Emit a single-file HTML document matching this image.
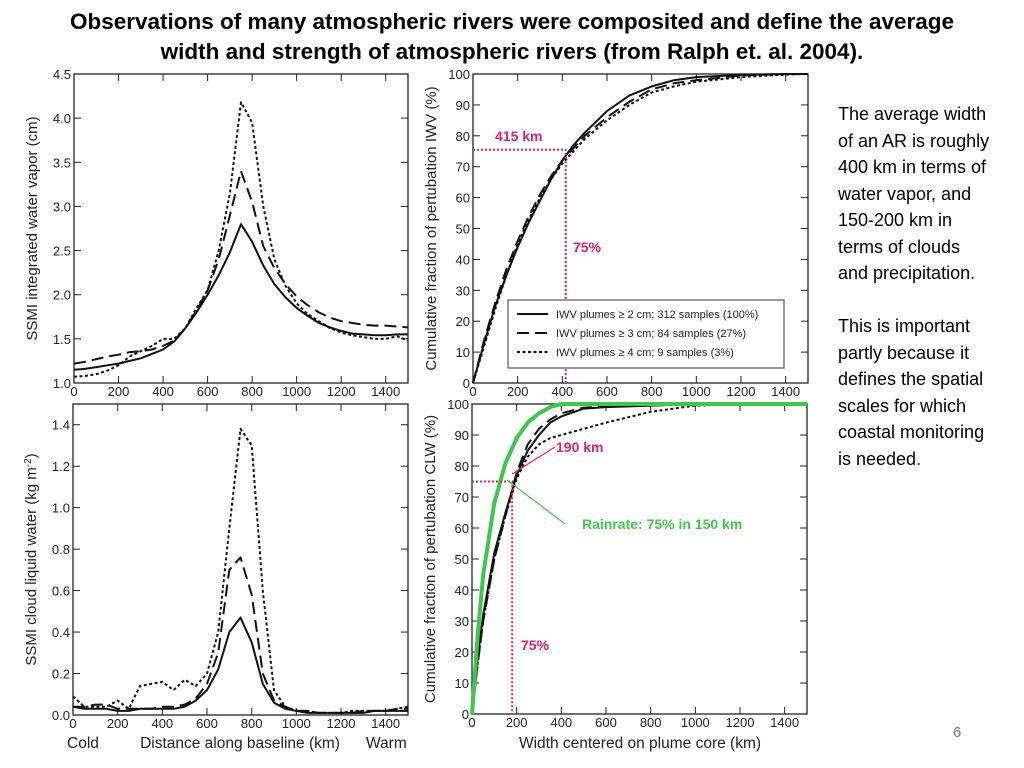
<!DOCTYPE html>
<html><head><meta charset="utf-8"><style>
body{margin:0;width:1024px;height:768px;background:#fff;overflow:hidden;font-family:"Liberation Sans",sans-serif;position:relative}
.title{position:absolute;left:0;top:7px;width:1024px;text-align:center;font-weight:bold;font-size:22.5px;line-height:30px;color:#000}
.side{position:absolute;left:838px;top:101px;width:186px;font-size:18px;line-height:26.5px;color:#000;white-space:nowrap}
.pg{position:absolute;left:953px;top:724px;font-size:15px;color:#777}
svg{position:absolute;left:0;top:0}
</style></head><body>
<div class="title">Observations of many atmospheric rivers were composited and define the average<br>width and strength of atmospheric rivers (from Ralph et. al. 2004).</div>
<div class="side">The average width<br>of an AR is roughly<br>400 km in terms of<br>water vapor, and<br>150-200 km in<br>terms of clouds<br>and precipitation.<br><br>This is important<br>partly because it<br>defines the spatial<br>scales for which<br>coastal monitoring<br>is needed.</div>
<div class="pg">6</div>
<svg id="s" width="1024" height="768"></svg>
<script>
const profX=[0,50,100,150,200,250,300,350,400,450,500,550,600,650,700,750,800,850,900,950,1000,1050,1100,1150,1200,1250,1300,1350,1400,1450,1500];
const iwvSolid=[1.15,1.16,1.18,1.2,1.22,1.25,1.28,1.33,1.38,1.47,1.62,1.8,2.0,2.22,2.48,2.8,2.6,2.33,2.12,1.97,1.85,1.76,1.68,1.63,1.59,1.56,1.55,1.54,1.54,1.55,1.55];
const iwvDash=[1.22,1.24,1.27,1.3,1.32,1.35,1.36,1.38,1.42,1.48,1.62,1.82,2.05,2.4,2.9,3.4,3.05,2.55,2.3,2.12,1.98,1.88,1.8,1.74,1.7,1.68,1.66,1.65,1.65,1.64,1.63];
const iwvDot=[1.07,1.08,1.1,1.14,1.2,1.3,1.36,1.42,1.5,1.5,1.62,1.85,2.05,2.5,3.15,4.18,3.95,3.0,2.4,2.1,1.9,1.78,1.7,1.62,1.57,1.54,1.52,1.5,1.5,1.53,1.48];
const clwSolid=[0.04,0.03,0.03,0.03,0.02,0.02,0.03,0.03,0.03,0.03,0.04,0.07,0.12,0.22,0.4,0.47,0.35,0.15,0.06,0.03,0.02,0.01,0.01,0.01,0.01,0.01,0.01,0.02,0.02,0.02,0.02];
const clwDash=[0.04,0.04,0.05,0.05,0.03,0.03,0.03,0.03,0.04,0.04,0.05,0.08,0.15,0.3,0.7,0.76,0.58,0.2,0.07,0.04,0.02,0.02,0.01,0.01,0.01,0.01,0.02,0.02,0.02,0.03,0.03];
const clwDot=[0.09,0.04,0.04,0.04,0.07,0.03,0.14,0.15,0.16,0.12,0.17,0.14,0.2,0.4,0.9,1.38,1.3,0.6,0.12,0.04,0.02,0.02,0.01,0.01,0.01,0.02,0.02,0.02,0.02,0.03,0.04];
const cumIwvX=[0,50,100,150,200,250,300,350,400,450,500,600,700,800,900,1000,1200,1400,1500];
const cumIwvSolid=[0,13,25,35,44,52,59,66,72,77,81,88,93,96,98,99,99.7,100,100];
const cumIwvDash=[0,14,26,37,46,54,61,67,72,76,80,86,91,95,97,98,99.5,100,100];
const cumIwvDot=[0,12,24,35,45,53,60,66,71,75,79,85,90,94,96,97.5,99,99.8,100];
const cumClwX=[0,25,50,100,150,200,250,300,350,400,500,600,800,1000,1200,1500];
const cumClwSolid=[0,18,32,52,65,77,85,90,94,96,98.5,99,99.5,100,100,100];
const cumClwDash=[0,16,30,50,64,78,87,92,95,97,98.8,99.2,99.5,100,100,100];
const cumClwDot=[0,16,30,50,64,76,83,87,89,90,92,94,97.5,99.5,100,100];
const rainGreen=[0,25,45,68,81,89,94,97,99,100,100,100,100,100,100,100];
const xTicks=[0,200,400,600,800,1000,1200,1400];

const S=document.getElementById('s'),NS='http://www.w3.org/2000/svg';
function el(t,a,p){const e=document.createElementNS(NS,t);for(const k in a)e.setAttribute(k,a[k]);(p||S).appendChild(e);return e;}
function txt(x,y,s,a){const e=el('text',Object.assign({x:x,y:y,'font-size':13,'font-family':'Liberation Sans, sans-serif',fill:'#222'},a||{}));e.textContent=s;return e;}
function chart(name,L,R,T,B,y0,y1,yTicks,yFmt,ytitle){
  const g=el('g',{});
  
  
  const sx=v=>L+(v/1500)*(R-L), sy=v=>B-(v-y0)/(y1-y0)*(B-T);
  el('rect',{x:L,y:T,width:R-L,height:B-T,fill:'none',stroke:'#222','stroke-width':1.3},g);
  xTicks.forEach(v=>{const x=sx(v);
    el('line',{x1:x,y1:B,x2:x,y2:B-7,stroke:'#222'},g);el('line',{x1:x,y1:T,x2:x,y2:T+7,stroke:'#222'},g);
    const t=txt(x,B+13,String(v),{'text-anchor':'middle'});g.appendChild(t);});
  yTicks.forEach(v=>{const y=sy(v);
    el('line',{x1:L,y1:y,x2:L+7,y2:y,stroke:'#222'},g);el('line',{x1:R,y1:y,x2:R-7,y2:y,stroke:'#222'},g);
    const t=txt(L-3,y+5,yFmt(v),{'text-anchor':'end'});g.appendChild(t);});
  const yt=txt(0,0,ytitle,{'font-size':15,'text-anchor':'middle',transform:`translate(${L-37},${(T+B)/2}) rotate(-90)`});
  yt.innerHTML=ytitle;
  
  g.appendChild(yt);
  return {g,sx,sy};
}
function line(c,xs,ys,dash,name,color,w){
  const d=xs.map((x,i)=>(i?'L':'M')+c.sx(x).toFixed(1)+','+c.sy(ys[i]).toFixed(1)).join('');
  const p=el('path',{d:d,fill:'none',stroke:color||'#111','stroke-width':w||2,'stroke-dasharray':dash||'none','stroke-linejoin':'round'},c.g);
  
  
}
const f1=v=>v.toFixed(1), f0=v=>String(v);
const c1=chart('iwv-profile-chart',74,408,74,383,1.0,4.5,[1.0,1.5,2.0,2.5,3.0,3.5,4.0,4.5],f1,'SSMI integrated water vapor (cm)');
line(c1,profX,iwvSolid,'','iwv-2cm-line');
line(c1,profX,iwvDash,'12,6','iwv-3cm-line');
line(c1,profX,iwvDot,'3,2.5','iwv-4cm-line');
const c2=chart('clw-profile-chart',73,408,404,715,0,1.5,[0,0.2,0.4,0.6,0.8,1.0,1.2,1.4],f1,'SSMI cloud liquid water (kg m<tspan baseline-shift="super" font-size="10">-2</tspan>)');
line(c2,profX,clwSolid,'','clw-2cm-line');
line(c2,profX,clwDash,'12,6','clw-3cm-line');
line(c2,profX,clwDot,'3,2.5','clw-4cm-line');
const xl=txt(240,748,'Distance along baseline (km)',{'font-size':15.5,'text-anchor':'middle'});
const cl=txt(67,748,'Cold',{'font-size':15.5});
const wl=txt(366,748,'Warm',{'font-size':15.5});
const pct=[0,10,20,30,40,50,60,70,80,90,100];
const c3=chart('iwv-cumulative-chart',473,808,74,383,0,100,pct,f0,'Cumulative fraction of pertubation IWV (%)');
line(c3,cumIwvX,cumIwvSolid,'','cum-iwv-2cm-line');
line(c3,cumIwvX,cumIwvDash,'12,6','cum-iwv-3cm-line');
line(c3,cumIwvX,cumIwvDot,'3,2.5','cum-iwv-4cm-line');
el('path',{d:`M${c3.sx(0)},${c3.sy(75.5)}H${c3.sx(415)}V${c3.sy(0)}`,fill:'none',stroke:'#e0206a','stroke-width':2,'stroke-dasharray':'2,2'});
const a1=txt(495,141,'415 km',{'font-size':14,'font-weight':'bold',fill:'#e0206a'});
const a2=txt(573,252,'75%',{'font-size':14,'font-weight':'bold',fill:'#e0206a'});
const lg=el('g',{});
el('rect',{x:508,y:300,width:276,height:68,fill:'#fff',stroke:'#333','stroke-width':1},lg);
[['','IWV plumes ≥ 2 cm; 312 samples (100%)'],['12,6','IWV plumes ≥  3 cm; 84 samples (27%)'],['3,2.5','IWV plumes ≥  4 cm; 9 samples (3%)']].forEach((r,i)=>{
  const y=314+i*19;
  el('line',{x1:517,y1:y,x2:548,y2:y,stroke:'#111','stroke-width':2,'stroke-dasharray':r[0]||'none'},lg);
  const t=txt(556,y+4,r[1],{'font-size':11});lg.appendChild(t);
});
const c4=chart('clw-cumulative-chart',472,807,404,714,0,100,pct,f0,'Cumulative fraction of pertubation CLW (%)');
line(c4,cumClwX,cumClwSolid,'','cum-clw-2cm-line');
line(c4,cumClwX,cumClwDash,'12,6','cum-clw-3cm-line');
line(c4,cumClwX,cumClwDot,'3,2.5','cum-clw-4cm-line');
line(c4,cumClwX,rainGreen,'','rainrate-line','#3cc84a',4);
el('path',{d:`M${c4.sx(0)},${c4.sy(75)}H${c4.sx(180)}V${c4.sy(0)}`,fill:'none',stroke:'#e0206a','stroke-width':2,'stroke-dasharray':'2,2'});
el('line',{x1:512,y1:474,x2:555,y2:447,stroke:'#e0206a','stroke-width':1.2});
el('line',{x1:507,y1:480,x2:565,y2:524,stroke:'#3cc84a','stroke-width':1.2});
const a3=txt(556,452,'190 km',{'font-size':14,'font-weight':'bold',fill:'#e0206a'});
const a4=txt(521,650,'75%',{'font-size':14,'font-weight':'bold',fill:'#e0206a'});
const a5=txt(582,529,'Rainrate: 75% in 150 km',{'font-size':14,'font-weight':'bold',fill:'#3cc84a'});
const xl2=txt(640,748,'Width centered on plume core (km)',{'font-size':15.5,'text-anchor':'middle'});
</script>
</body></html>
